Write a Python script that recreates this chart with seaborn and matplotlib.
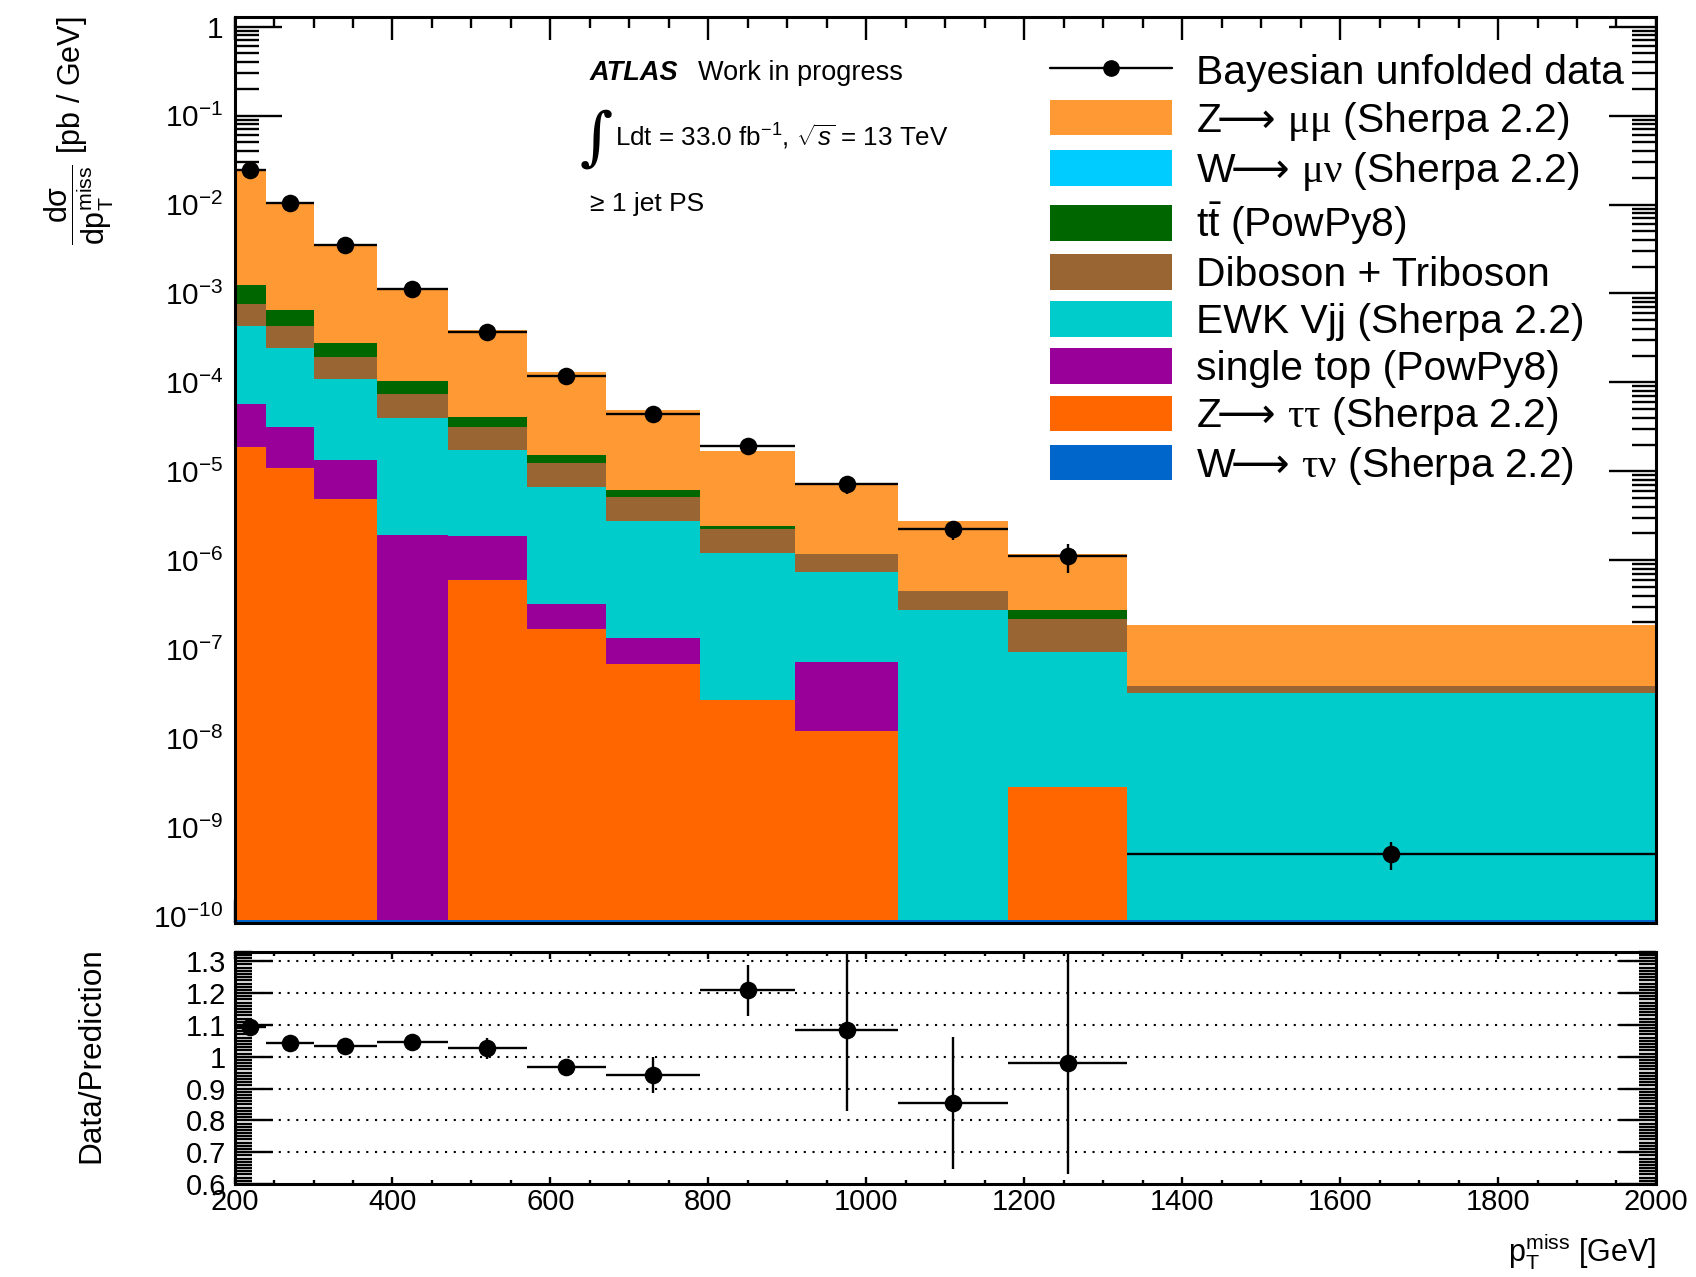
import numpy as np
import pandas as pd
import matplotlib
matplotlib.use("Agg")
import matplotlib.pyplot as plt
from matplotlib.lines import Line2D
from matplotlib.patches import Patch
from matplotlib.ticker import (LogLocator, MultipleLocator, FixedLocator,
                               FuncFormatter, NullFormatter)
import seaborn as sns

# ---------------------------------------------------------------------------
# Binning in missing transverse momentum [GeV]
bin_edges = [200, 240, 300, 380, 470, 570, 670, 790, 910, 1040, 1180, 1330, 2000]

# Predicted differential cross sections per process [pb / GeV]
z_mumu = [2.256e-2, 1.002e-2, 3.28e-3, 1.016e-3, 3.46e-4, 1.158e-4,
          4.27e-5, 1.46e-5, 6.03e-6, 2.32e-6, 9.15e-7, 1.466e-7]
w_munu = [0, 0, 0, 0, 0, 0, 0, 0, 0, 0, 0, 0]
ttbar = [4.7e-4, 2.17e-4, 8.3e-5, 3.0e-5, 9.3e-6, 2.9e-6,
         9.0e-7, 1.5e-7, 0, 0, 5.5e-8, 0]
diboson = [3.37e-4, 1.88e-4, 8.6e-5, 3.4e-5, 1.42e-5, 5.6e-6,
           2.45e-6, 1.04e-6, 4.4e-7, 1.75e-7, 1.27e-7, 6.4e-9]
ewk_vjj = [3.76e-4, 2.14e-4, 9.45e-5, 3.81e-5, 1.56e-5, 6.38e-6,
           2.62e-6, 1.18e-6, 6.6e-7, 2.75e-7, 9.0e-8, 3.2e-8]
single_top = [3.8e-5, 2.03e-5, 8.6e-6, 1.9e-6, 1.27e-6, 1.52e-7,
              6.5e-8, 0, 5.9e-8, 0, 0, 0]
z_tautau = [1.9e-5, 1.09e-5, 4.9e-6, 0, 6.0e-7, 1.68e-7,
            6.8e-8, 2.7e-8, 1.19e-8, 0, 2.73e-9, 0]
w_taunu = [9e-11, 9e-11, 9e-11, 9e-11, 9e-11, 9e-11,
           9e-11, 9e-11, 9e-11, 9e-11, 9e-11, 9e-11]

# Unfolded data [pb / GeV]
data_vals = [2.44e-2, 1.05e-2, 3.47e-3, 1.11e-3, 3.7e-4, 1.19e-4,
             4.37e-5, 1.95e-5, 7.2e-6, 2.24e-6, 1.11e-6, 5.0e-10]
data_errs = [2.7e-4, 8e-5, 2.7e-5, 8.5e-6, 1.2e-5, 7.4e-7,
             2.6e-6, 1.3e-6, 1.7e-6, 5.4e-7, 4.0e-7, 1.75e-10]

# Data / prediction
ratio_vals = [1.092, 1.044, 1.034, 1.046, 1.026, 0.967,
              0.943, 1.209, 1.084, 0.854, 0.981, np.nan]
ratio_errs = [0.012, 0.008, 0.008, 0.008, 0.033, 0.006,
              0.057, 0.08, 0.253, 0.207, 0.35, np.nan]

# Legend order (top of stack first)
ARROW = r"$\!\!\mathtt{\longrightarrow}\!$"
process_labels = [
    "Z" + ARROW + r" $\mathsf{\mu\mu}$ (Sherpa 2.2)",
    "W" + ARROW + r" $\mathsf{\mu\nu}$ (Sherpa 2.2)",
    r"$\mathrm{t\bar{t}}$ (PowPy8)",
    "Diboson + Triboson",
    "EWK Vjj (Sherpa 2.2)",
    "single top (PowPy8)",
    "Z" + ARROW + r" $\mathsf{\tau\tau}$ (Sherpa 2.2)",
    "W" + ARROW + r" $\mathsf{\tau\nu}$ (Sherpa 2.2)",
]
process_colors = ["#FF9933", "#00CCFF", "#006600", "#996633",
                  "#00CCCC", "#990099", "#FF6600", "#0066CC"]
process_values = [z_mumu, w_munu, ttbar, diboson, ewk_vjj,
                  single_top, z_tautau, w_taunu]

# ---------------------------------------------------------------------------
sns.set_theme(style="ticks")
plt.rcParams.update({
    "font.family": ["Liberation Sans", "DejaVu Sans"],
    "mathtext.fontset": "custom",
    "mathtext.rm": "Liberation Sans",
    "mathtext.it": "Liberation Sans:italic",
    "mathtext.bf": "Liberation Sans:bold",
    "mathtext.sf": "Liberation Serif",
    "mathtext.tt": "DejaVu Sans",
    "axes.edgecolor": "black",
    "axes.linewidth": 2.2,
    "xtick.color": "black",
    "ytick.color": "black",
    "text.color": "black",
})

edges = np.array(bin_edges, dtype=float)
centers = 0.5 * (edges[:-1] + edges[1:])
half_w = 0.5 * np.diff(edges)

frames = [pd.DataFrame({"pt": centers, "xsec": vals, "process": lab})
          for lab, vals in zip(process_labels, process_values)]
df = pd.concat(frames, ignore_index=True)

fig = plt.figure(figsize=(16.96, 12.77), dpi=100)
ax = fig.add_axes([0.1383, 0.2772, 0.9764 - 0.1383, 0.9869 - 0.2772])
rax = fig.add_axes([0.1383, 0.0728, 0.9764 - 0.1383, 0.2547 - 0.0728])

# Stacked predictions
sns.histplot(data=df, x="pt", weights="xsec", hue="process",
             hue_order=process_labels,
             palette=dict(zip(process_labels, process_colors)),
             bins=bin_edges, multiple="stack", element="step", fill=True,
             alpha=1.0, linewidth=0, legend=False, ax=ax)

# Data
ax.errorbar(centers, data_vals, xerr=half_w, yerr=data_errs, fmt="none",
            ecolor="black", elinewidth=1.7, capsize=0, zorder=5)
sns.scatterplot(x=centers, y=data_vals, color="black", s=160,
                linewidth=0, zorder=6, ax=ax)

ax.set_yscale("log")
ax.set_xlim(200, 2000)
ax.set_ylim(10 ** -10.08, 10 ** 0.112)
ax.set_xlabel("")
ax.set_ylabel("")

ax.xaxis.set_major_locator(MultipleLocator(200))
ax.xaxis.set_minor_locator(MultipleLocator(50))
ax.yaxis.set_major_locator(LogLocator(base=10, numticks=30))
ax.yaxis.set_minor_locator(LogLocator(base=10, subs=np.arange(2, 10), numticks=30))
ax.yaxis.set_minor_formatter(NullFormatter())


def log_label(v, pos):
    e = int(round(np.log10(v)))
    return "1" if e == 0 else r"$10^{%d}$" % e


ax.yaxis.set_major_formatter(FuncFormatter(log_label))
ax.tick_params(which="both", direction="in", top=True, right=True,
               labelbottom=False, width=1.7)
ax.tick_params(axis="x", which="major", length=16.5)
ax.tick_params(axis="x", which="minor", length=8)
ax.tick_params(axis="y", which="major", length=34, labelsize=21.5, pad=8)
ax.tick_params(axis="y", which="minor", length=17)

# Ratio panel
for g in [0.7, 0.8, 0.9, 1.0, 1.1, 1.2, 1.3]:
    rax.axhline(g, color="black", lw=1.5, ls=(0, (1, 3.2)), zorder=1)
rax.errorbar(centers, ratio_vals, xerr=half_w, yerr=ratio_errs, fmt="none",
             ecolor="black", elinewidth=1.7, capsize=0, zorder=5)
sns.scatterplot(x=centers, y=ratio_vals, color="black", s=160,
                linewidth=0, zorder=6, ax=rax)
rax.set_xlim(200, 2000)
rax.set_ylim(0.6, 1.33)
rax.xaxis.set_major_locator(MultipleLocator(200))
rax.xaxis.set_minor_locator(MultipleLocator(50))
rax.yaxis.set_major_locator(FixedLocator([0.6, 0.7, 0.8, 0.9, 1.0, 1.1, 1.2, 1.3]))
rax.yaxis.set_minor_locator(MultipleLocator(0.01))
rax.yaxis.set_major_formatter(FuncFormatter(lambda v, p: "%g" % round(v, 2)))
rax.tick_params(which="both", direction="in", top=True, right=True, width=1.7)
rax.tick_params(axis="x", which="major", length=5, labelsize=21, pad=3)
rax.tick_params(axis="x", which="minor", length=3)
rax.tick_params(axis="y", which="major", length=27, labelsize=21, pad=6)
rax.tick_params(axis="y", which="minor", length=12.5)
rax.set_xlabel("")
rax.set_ylabel("")

# Axis titles
fig.text(0.047, 0.987,
         r"$\dfrac{\mathrm{d\sigma}}{\mathrm{dp}_{\mathrm{T}}^{\mathrm{miss}}}$ [pb / GeV]",
         rotation=90, ha="center", va="top", fontsize=22)
fig.text(0.054, 0.2585, "Data/Prediction", rotation=90,
         ha="center", va="top", fontsize=22.7)
fig.text(0.9764, 0.0125, r"$\mathrm{p}_{\mathrm{T}}^{\mathrm{miss}}$ [GeV]",
         ha="right", va="baseline", fontsize=22)

# Labels
fig.text(0.3476, 0.9373, "ATLAS", fontsize=19.5, fontweight="bold",
         fontstyle="italic", va="baseline")
fig.text(0.4114, 0.9373, "Work in progress", fontsize=19.5, va="baseline")
fig.text(0.3415, 0.8765, "\u222b", fontsize=46, va="baseline",
         family=["DejaVu Serif"])
fig.text(0.3625, 0.8857, r"Ldt = 33.0 fb$^{-1}$, $\sqrt{s}$ = 13 TeV",
         fontsize=18.7, va="baseline")
fig.text(0.3476, 0.8348, "\u2265 1 jet PS", fontsize=19, va="baseline")

# Legend
handles = [Line2D([0], [0], color="black", lw=1.7, marker="o", ms=11)]
handles += [Patch(facecolor=c, edgecolor="none") for c in process_colors]
labels = ["Bayesian unfolded data"] + process_labels
ax.legend(handles, labels, loc="upper left", bbox_to_anchor=(0.619, 0.9588),
          bbox_transform=fig.transFigure, frameon=False, fontsize=29.4,
          handlelength=3.0, handleheight=0.95, handletextpad=0.57,
          labelspacing=0.18, borderpad=0, borderaxespad=0)

fig.savefig("out.png", dpi=100)
